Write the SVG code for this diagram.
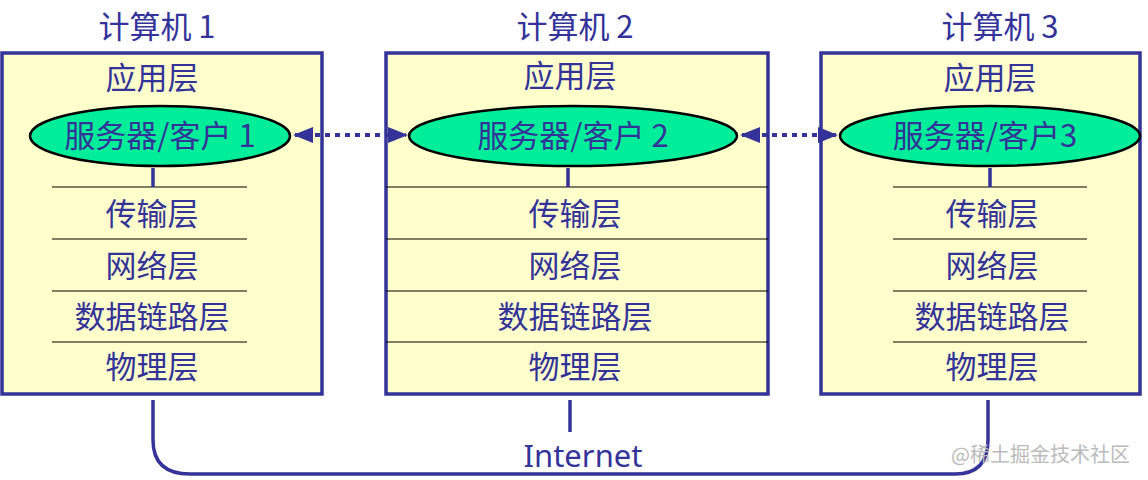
<svg xmlns="http://www.w3.org/2000/svg" width="1148" height="480" viewBox="0 0 1148 480">
<style>
.box{fill:#ffffcc;stroke:#333399;stroke-width:3.5}
.sep{stroke:#000;stroke-width:1.2}
.t{font-family:"Noto Sans CJK SC","Liberation Sans",sans-serif;font-size:31px;fill:#333399;text-anchor:middle}
.ell{fill:#00ee99;stroke:#000;stroke-width:2.5}
.ln{stroke:#333399;stroke-width:3.5;fill:none}
.dot{stroke:#333399;stroke-width:4;stroke-dasharray:5 5;fill:none}
</style>
<defs>
<marker id="ah" viewBox="0 0 10 10" refX="9" refY="5" markerWidth="5" markerHeight="5" orient="auto-start-reverse"><path d="M0,1 L10,5 L0,9 Z" fill="#333399"/></marker>
</defs>
<g id="pc1">
<text class="t" x="157" y="38">计算机 1</text>
<rect class="box" x="2" y="53" width="320" height="341"/>
<text class="t" x="152" y="89">应用层</text>
<line class="sep" x1="52" y1="187" x2="247" y2="187"/>
<line class="sep" x1="52" y1="239" x2="247" y2="239"/>
<line class="sep" x1="52" y1="291" x2="247" y2="291"/>
<line class="sep" x1="52" y1="342" x2="247" y2="342"/>
<line class="ln" x1="153" y1="168" x2="153" y2="187"/>
<ellipse class="ell" cx="160" cy="136" rx="130" ry="30"/>
<text class="t" x="160" y="147">服务器/客户 1</text>
<text class="t" x="152" y="225">传输层</text>
<text class="t" x="152" y="277">网络层</text>
<text class="t" x="152" y="328">数据链路层</text>
<text class="t" x="152" y="378">物理层</text>
</g>
<g id="pc2">
<text class="t" x="575" y="38">计算机 2</text>
<rect class="box" x="386" y="53" width="382" height="341"/>
<text class="t" x="570" y="87">应用层</text>
<line class="sep" x1="386" y1="187" x2="768" y2="187"/>
<line class="sep" x1="386" y1="239" x2="768" y2="239"/>
<line class="sep" x1="386" y1="291" x2="768" y2="291"/>
<line class="sep" x1="386" y1="342" x2="768" y2="342"/>
<line class="ln" x1="568" y1="168" x2="568" y2="187"/>
<ellipse class="ell" cx="573" cy="136" rx="164" ry="30"/>
<text class="t" x="573" y="147">服务器/客户 2</text>
<text class="t" x="575" y="225">传输层</text>
<text class="t" x="575" y="277">网络层</text>
<text class="t" x="575" y="328">数据链路层</text>
<text class="t" x="575" y="378">物理层</text>
</g>
<g id="pc3">
<text class="t" x="1000" y="38">计算机 3</text>
<rect class="box" x="821" y="53" width="319" height="341"/>
<text class="t" x="990" y="89">应用层</text>
<line class="sep" x1="893" y1="187" x2="1087" y2="187"/>
<line class="sep" x1="893" y1="239" x2="1087" y2="239"/>
<line class="sep" x1="893" y1="291" x2="1087" y2="291"/>
<line class="sep" x1="893" y1="342" x2="1087" y2="342"/>
<line class="ln" x1="990" y1="168" x2="990" y2="187"/>
<ellipse class="ell" cx="990" cy="136" rx="150" ry="30"/>
<text class="t" x="985" y="147">服务器/客户3</text>
<text class="t" x="992" y="225">传输层</text>
<text class="t" x="992" y="277">网络层</text>
<text class="t" x="992" y="328">数据链路层</text>
<text class="t" x="992" y="378">物理层</text>
</g>
<g id="connectors">
<line class="dot" x1="295" y1="135" x2="406" y2="135" marker-start="url(#ah)" marker-end="url(#ah)"/>
<line class="dot" x1="742" y1="135" x2="836" y2="135" marker-start="url(#ah)" marker-end="url(#ah)"/>
<path class="ln" d="M153,400 V440 Q153,474 190,474 H955 Q988,474 988,440 V400"/>
<line class="ln" x1="570" y1="400" x2="570" y2="432"/>
</g>
<text class="t" x="583" y="467" style="font-family:'Noto Sans','Liberation Sans',sans-serif">Internet</text>
<text x="1130" y="462" style="font-family:'Noto Sans CJK SC',sans-serif;font-size:20px;fill:#bbbbbb;text-anchor:end">@稀土掘金技术社区</text>
</svg>
